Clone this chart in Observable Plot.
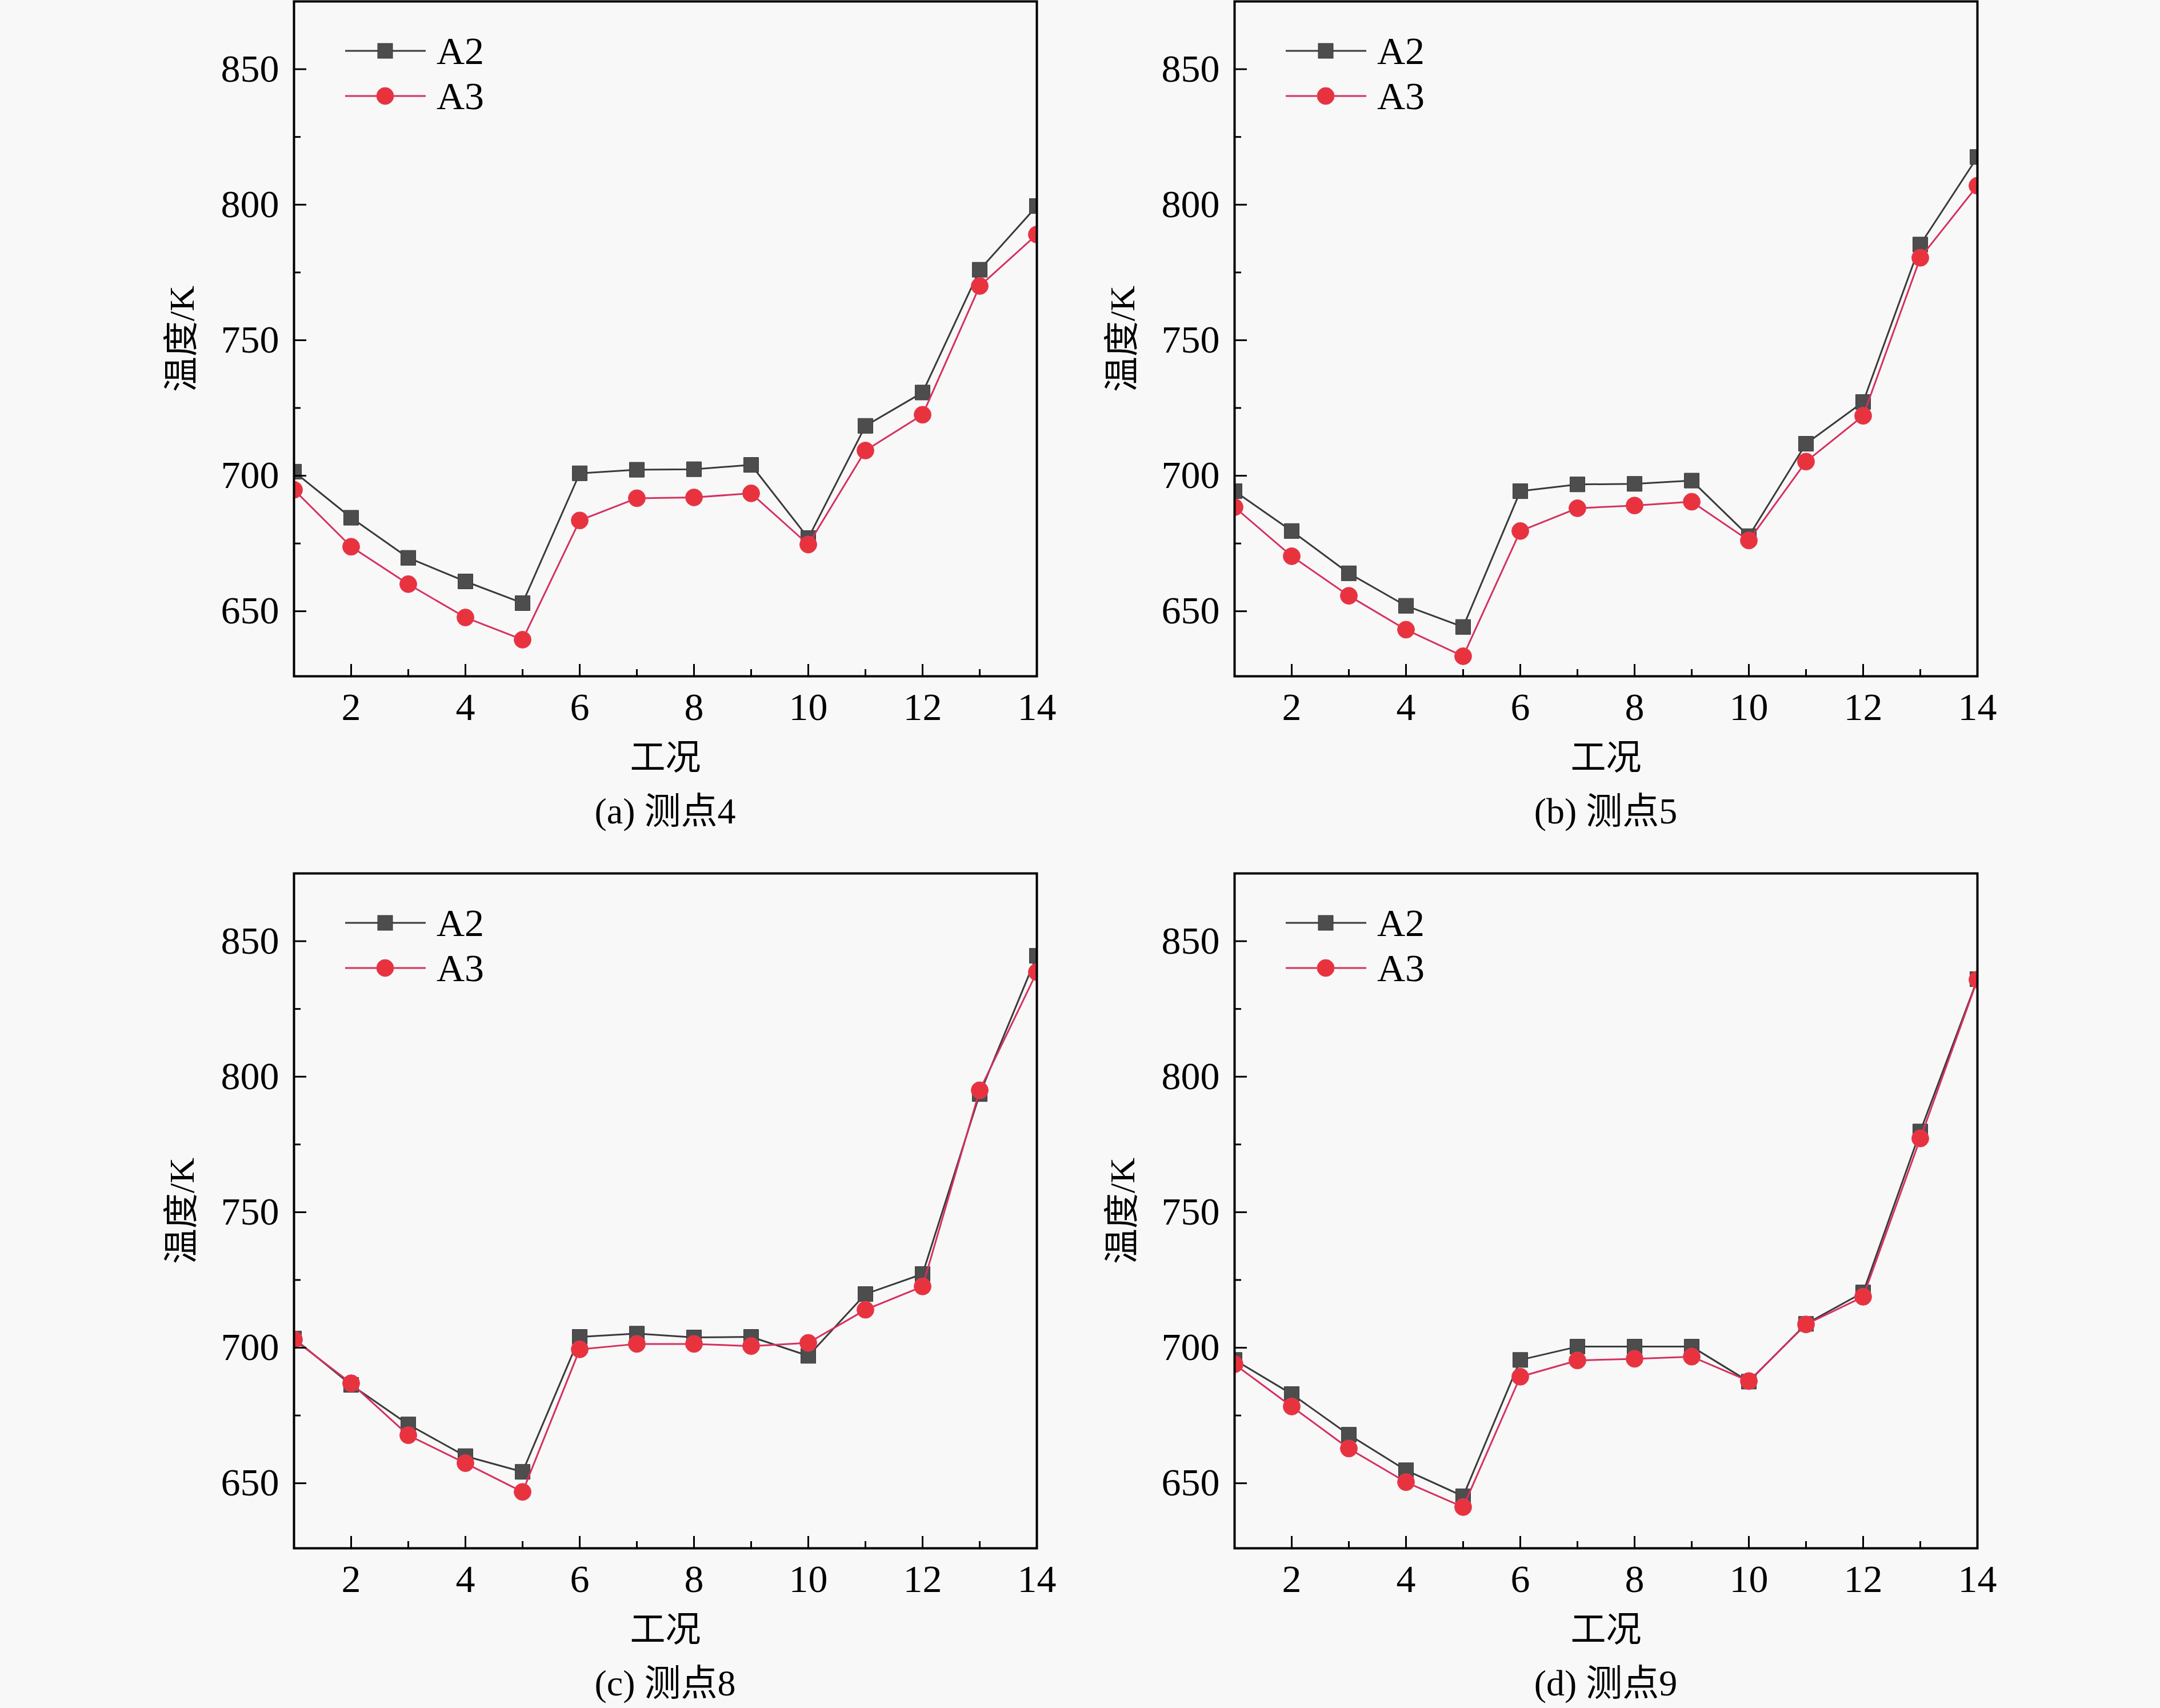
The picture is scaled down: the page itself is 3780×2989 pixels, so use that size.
<!DOCTYPE html>
<html><head><meta charset="utf-8">
<script src="https://cdn.jsdelivr.net/npm/d3@7"></script>
<script src="https://cdn.jsdelivr.net/npm/@observablehq/plot@0.6"></script>
<style>
html,body{margin:0;padding:0;background:#f8f8f8;}
#root{position:relative;width:3780px;height:2989px;overflow:hidden;font-family:"Liberation Serif","Times New Roman","Noto Sans CJK SC",serif;color:#000;}
.panel{position:absolute;}
.caption{position:absolute;font-size:64px;white-space:nowrap;transform:translate(-50%,-50%);line-height:1;}
.legend{position:absolute;overflow:visible;}
</style></head><body><div id="root"></div>
<script>
// ---- data ----
const conditions = [1,2,3,4,5,6,7,8,9,10,11,12,13,14];
const seriesNames = ["A2","A3"];
const p4_A2 = [701.5,684.5,669.7,661.0,653.0,700.9,702.2,702.4,704.0,677.0,718.4,730.7,776.0,799.5];
const p4_A3 = [694.8,673.8,660.0,647.7,639.5,683.5,691.7,692.0,693.5,674.6,709.3,722.5,770.0,789.0];
const p5_A2 = [694.3,679.6,664.0,652.0,644.2,694.3,696.8,697.0,698.2,677.7,711.8,727.2,785.3,817.6];
const p5_A3 = [688.4,670.3,655.7,643.2,633.4,679.6,688.0,689.0,690.4,676.1,705.2,722.1,780.4,807.0];
const p8_A2 = [703.4,686.3,671.7,660.0,654.2,704.0,705.2,703.8,704.0,697.0,719.8,727.2,793.6,844.6];
const p8_A3 = [703.0,686.9,667.7,657.4,646.8,699.4,701.4,701.4,700.6,701.8,714.0,722.6,795.0,838.6];
const p9_A2 = [695.5,682.9,667.9,654.8,645.2,695.5,700.4,700.4,700.4,687.5,708.8,720.4,779.8,836.0];
const p9_A3 = [693.9,678.3,662.8,650.4,641.2,689.3,695.3,695.9,696.7,687.7,708.6,718.8,777.2,835.8];
const captions = ["(a) 测点4","(b) 测点5","(c) 测点8","(d) 测点9"];
const xTicks = [2,4,6,8,10,12,14];
const xMinorTicks = [3,5,7,9,11,13];
const yTicks = [650,700,750,800,850];
const yMinorTicks = [675,725,775,825];
const xTitle = "工况";
const yTitle = "温度/K";

// ---- layout ----
const FW = 1300, FH = 1181;
const ML = 260, MR = 60, MT = 20, MB = 190;
const frames = [[514,2],[2160,2],[514,1528],[2160,1528]];
const panelSeries = [[p4_A2,p4_A3],[p5_A2,p5_A3],[p8_A2,p8_A3],[p9_A2,p9_A3]];
const colA2Line = "#3a3a3a", colA2Fill = "#4d4d4d";
const colA3Line = "#d6305e", colA3Fill = "#e8333f";
const FONT = "'Liberation Serif','Times New Roman','Noto Sans CJK SC',serif";

const root = document.getElementById("root");

panelSeries.forEach(([sA2, sA3], i) => {
  const [fx, fy] = frames[i];
  const d2 = conditions.map((c, j) => ({x: c, y: sA2[j]}));
  const d3s = conditions.map((c, j) => ({x: c, y: sA3[j]}));
  const chart = Plot.plot({
    width: ML + FW + MR, height: MT + FH + MB,
    marginLeft: ML, marginRight: MR, marginTop: MT, marginBottom: MB,
    x: {domain: [1, 14], label: null},
    y: {domain: [626, 875], label: null},
    style: {background: "transparent", fontFamily: FONT, fontSize: "68px", color: "black", overflow: "visible"},
    marks: [
      Plot.line(d2, {x: "x", y: "y", stroke: colA2Line, strokeWidth: 3, clip: true}),
      Plot.dot(d2, {x: "x", y: "y", symbol: "square", r: 14.7, fill: colA2Fill, stroke: colA2Line, strokeWidth: 1, clip: true}),
      Plot.line(d3s, {x: "x", y: "y", stroke: colA3Line, strokeWidth: 3, clip: true}),
      Plot.dot(d3s, {x: "x", y: "y", symbol: "circle", r: 15, fill: colA3Fill, stroke: "#e0405a", strokeWidth: 1, clip: true}),
      Plot.tickX(xTicks, {x: d => d, insetTop: FH - 21, stroke: "black", strokeWidth: 3}),
      Plot.tickX(xMinorTicks, {x: d => d, insetTop: FH - 12, stroke: "black", strokeWidth: 3}),
      Plot.tickY(yTicks, {y: d => d, insetRight: FW - 22, stroke: "black", strokeWidth: 3}),
      Plot.tickY(yMinorTicks, {y: d => d, insetRight: FW - 12, stroke: "black", strokeWidth: 3}),
      Plot.axisX(xTicks, {tickSize: 0, tickPadding: 28, fontSize: 68, label: null}),
      Plot.axisY(yTicks, {tickSize: 0, tickPadding: 26, fontSize: 68, label: null}),
      Plot.frame({stroke: "black", strokeWidth: 4}),
      Plot.text([xTitle], {text: d => d, frameAnchor: "bottom", dy: 144, fontSize: 62, lineAnchor: "middle", textAnchor: "middle"}),
      Plot.text([yTitle], {text: d => d, frameAnchor: "left", dx: -195, rotate: -90, fontSize: 62, lineAnchor: "middle", textAnchor: "middle"})
    ]
  });
  chart.classList.add("panel");
  chart.style.left = (fx - ML) + "px";
  chart.style.top = (fy - MT) + "px";
  root.appendChild(chart);

  // legend
  const lg = d3.select(root).append("svg").attr("class", "legend")
    .attr("width", 400).attr("height", 220)
    .style("left", (fx + 80) + "px").style("top", (fy + 40) + "px");
  const rows = [
    {name: seriesNames[0], line: colA2Line, fill: colA2Fill, sym: "square"},
    {name: seriesNames[1], line: colA3Line, fill: colA3Fill, sym: "circle"}
  ];
  rows.forEach((r, k) => {
    const cy = 47 + k * 79;
    lg.append("line").attr("x1", 10).attr("x2", 151).attr("y1", cy).attr("y2", cy)
      .attr("stroke", r.line).attr("stroke-width", 3);
    if (r.sym === "square") {
      lg.append("rect").attr("x", 80 - 13).attr("y", cy - 13).attr("width", 26).attr("height", 26)
        .attr("fill", r.fill).attr("stroke", r.line).attr("stroke-width", 1);
    } else {
      lg.append("circle").attr("cx", 80).attr("cy", cy).attr("r", 15)
        .attr("fill", r.fill).attr("stroke", "#e0405a").attr("stroke-width", 1);
    }
    lg.append("text").attr("x", 170).attr("y", cy + 23).text(r.name)
      .attr("font-family", FONT).attr("font-size", 68).attr("fill", "black");
  });

  // caption
  const cap = document.createElement("div");
  cap.className = "caption";
  cap.textContent = captions[i];
  cap.style.left = (fx + FW / 2) + "px";
  cap.style.top = (fy + 1418) + "px";
  root.appendChild(cap);
});
</script>
</body></html>
